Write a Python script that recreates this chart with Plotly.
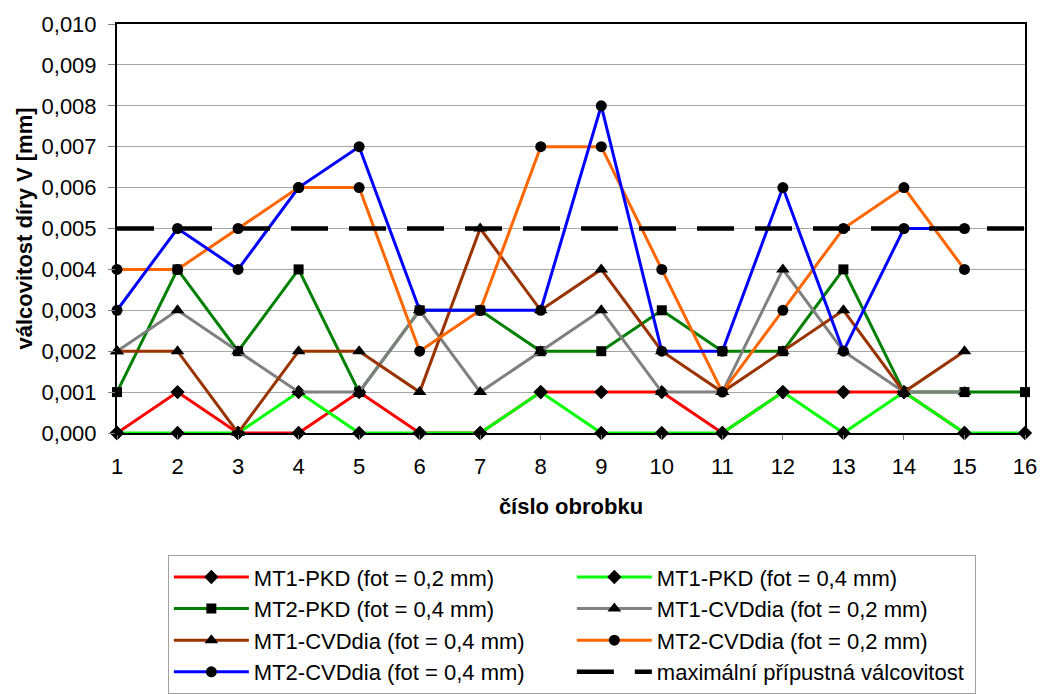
import plotly.graph_objects as go

x = list(range(1, 17))

mt1_pkd_02 = [0, 0.001, 0, 0, 0.001, 0, 0, 0.001, 0.001, 0.001, 0, 0.001, 0.001, 0.001, 0, None]
mt1_pkd_04 = [0, 0, 0, 0.001, 0, 0, 0, 0.001, 0, 0, 0, 0.001, 0, 0.001, 0, 0]
mt2_pkd_04 = [0.001, 0.004, 0.002, 0.004, 0.001, 0.003, 0.003, 0.002, 0.002, 0.003, 0.002, 0.002, 0.004, 0.001, 0.001, 0.001]
mt1_cvd_02 = [0.002, 0.003, 0.002, 0.001, 0.001, 0.003, 0.001, 0.002, 0.003, 0.001, 0.001, 0.004, 0.002, 0.001, 0.001, None]
mt1_cvd_04 = [0.002, 0.002, 0, 0.002, 0.002, 0.001, 0.005, 0.003, 0.004, 0.002, 0.001, 0.002, 0.003, 0.001, 0.002, None]
mt2_cvd_02 = [0.004, 0.004, 0.005, 0.006, 0.006, 0.002, 0.003, 0.007, 0.007, 0.004, 0.001, 0.003, 0.005, 0.006, 0.004, None]
mt2_cvd_04 = [0.003, 0.005, 0.004, 0.006, 0.007, 0.003, 0.003, 0.003, 0.008, 0.002, 0.002, 0.006, 0.002, 0.005, 0.005, None]
max_limit = [0.005] * 16

names = [
    "MT1-PKD (fot = 0,2 mm)",
    "MT1-PKD (fot = 0,4 mm)",
    "MT2-PKD (fot = 0,4 mm)",
    "MT1-CVDdia (fot = 0,2 mm)",
    "MT1-CVDdia (fot = 0,4 mm)",
    "MT2-CVDdia (fot = 0,2 mm)",
    "MT2-CVDdia (fot = 0,4 mm)",
    "maximální přípustná válcovitost",
]
series = [mt1_pkd_02, mt1_pkd_04, mt2_pkd_04, mt1_cvd_02, mt1_cvd_04, mt2_cvd_02, mt2_cvd_04]
colors = ["#ff0000", "#00ff00", "#008000", "#808080", "#993300", "#ff6600", "#0000ff"]
symbols = ["diamond", "diamond", "square", "triangle-up", "triangle-up", "circle", "circle"]
sizes = [11, 11, 10, 12, 12, 11, 11]

FONT = "Liberation Sans, Arial, sans-serif"

fig = go.Figure()
for name, ys, c, s, sz in zip(names, series, colors, symbols, sizes):
    fig.add_trace(go.Scatter(
        x=x, y=ys, name=name, mode="lines+markers",
        line=dict(color=c, width=3),
        marker=dict(symbol=s, size=sz, color="black"),
        cliponaxis=False, connectgaps=False,
    ))
fig.add_trace(go.Scatter(
    x=x, y=max_limit, name=names[7], mode="lines",
    line=dict(color="black", width=4.5, dash="37px,21px"),
    cliponaxis=False,
))

fig.update_layout(
    width=1041, height=694,
    margin=dict(l=117, r=16, t=24, b=261),
    paper_bgcolor="white", plot_bgcolor="white",
    separators=", ",
    font=dict(family=FONT, size=22, color="black"),
    showlegend=True,
    legend=dict(
        orientation="h", xref="paper", x=0.056, xanchor="left",
        yref="container", y=0.200, yanchor="top",
        bordercolor="#a0a0a0", borderwidth=1, bgcolor="white",
        font=dict(family=FONT, size=22),
        entrywidth=313, entrywidthmode="pixels",
        itemwidth=75, tracegroupgap=0,
    ),
    xaxis=dict(
        range=[1, 16], tickvals=x, ticktext=[str(v) for v in x],
        showgrid=False, zeroline=False, automargin=False,
        showline=True, linecolor="black", linewidth=2, mirror=True,
        ticks="outside", ticklen=5, tickcolor="#808080",
        ticklabelstandoff=8,
        title=dict(text="<b>číslo obrobku</b>", font=dict(size=22), standoff=20),
    ),
    yaxis=dict(
        range=[0, 0.010], dtick=0.001, tickformat=".3f",
        showgrid=True, gridcolor="#a6a6a6", gridwidth=1, zeroline=False, automargin=False,
        showline=True, linecolor="black", linewidth=2, mirror=True,
        ticks="outside", ticklen=7, tickcolor="#808080",
        ticklabelstandoff=7,
        title=dict(text="<b>válcovitost díry V [mm]</b>", font=dict(size=22), standoff=3),
    ),
)

fig.write_html(
    "out.html",
    config={"displayModeBar": False},
    post_script="document.body.style.margin='0';document.body.style.overflow='hidden';",
)
